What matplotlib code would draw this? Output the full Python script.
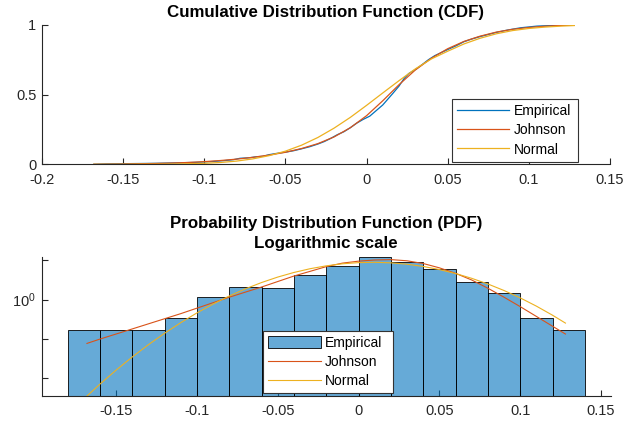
import numpy as np
import matplotlib
matplotlib.use("Agg")
import matplotlib.pyplot as plt
from matplotlib.ticker import FormatStrFormatter, NullFormatter

plt.rcParams['font.family'] = ['Liberation Sans', 'DejaVu Sans']
plt.rcParams['axes.unicode_minus'] = False

# MATLAB default line colours
C_BLUE = '#0072BD'
C_RED = '#D95319'
C_YEL = '#EDB120'
AX_COL = '#262626'

# --- empirical CDF (sorted returns vs. fraction below) ---
ecdf_x = [-0.168, -0.160, -0.145, -0.130, -0.115, -0.105, -0.095, -0.088, -0.082,
          -0.078, -0.072, -0.068, -0.064, -0.060, -0.056, -0.050, -0.045, -0.040,
          -0.035, -0.030, -0.026, -0.022, -0.018, -0.014, -0.010, -0.006, -0.002,
          0.002, 0.006, 0.010, 0.013, 0.016, 0.020, 0.023, 0.026, 0.030, 0.034,
          0.038, 0.042, 0.046, 0.050, 0.055, 0.060, 0.065, 0.070, 0.075, 0.080,
          0.087, 0.095, 0.105, 0.115, 0.128]
ecdf_y = [0.000, 0.003, 0.005, 0.007, 0.011, 0.014, 0.020, 0.026, 0.033,
          0.043, 0.047, 0.054, 0.057, 0.069, 0.077, 0.087, 0.097, 0.111,
          0.126, 0.145, 0.163, 0.186, 0.212, 0.233, 0.262, 0.295, 0.322,
          0.345, 0.385, 0.425, 0.465, 0.505, 0.560, 0.612, 0.650, 0.678, 0.712,
          0.748, 0.778, 0.800, 0.822, 0.848, 0.878, 0.898, 0.915, 0.930, 0.945,
          0.962, 0.978, 0.990, 0.995, 1.000]

# --- fitted curves, sampled over the data range ---
fit_x = [-0.168, -0.160, -0.150, -0.140, -0.130, -0.120, -0.110, -0.100, -0.090,
         -0.080, -0.070, -0.060, -0.050, -0.040, -0.030, -0.020, -0.010, 0.000,
         0.010, 0.020, 0.030, 0.040, 0.050, 0.060, 0.070, 0.080, 0.090, 0.100,
         0.110, 0.120, 0.128]

johnson_cdf = [0.000, 0.001, 0.002, 0.004, 0.006, 0.009, 0.013, 0.019, 0.027,
               0.037, 0.050, 0.066, 0.086, 0.113, 0.148, 0.196, 0.262, 0.348,
               0.455, 0.570, 0.675, 0.760, 0.828, 0.880, 0.918, 0.947, 0.967, 0.980,
               0.989, 0.995, 0.998]
normal_cdf = [0.000, 0.000, 0.000, 0.001, 0.001, 0.002, 0.004, 0.007, 0.013,
              0.023, 0.039, 0.062, 0.094, 0.137, 0.192, 0.259, 0.336, 0.422,
              0.511, 0.599, 0.683, 0.755, 0.810, 0.862, 0.903, 0.935, 0.958, 0.973,
              0.983, 0.990, 0.994]

johnson_pdf = [0.076, 0.098, 0.132, 0.178, 0.240, 0.324, 0.437, 0.603, 0.832,
               1.148, 1.549, 2.089, 2.884, 3.981, 5.248, 6.918, 8.511, 9.550,
               10.23, 10.47, 9.770, 8.320, 6.460, 4.680, 3.160, 1.950, 1.150, 0.661,
               0.372, 0.209, 0.132]
normal_pdf = [0.00346, 0.00693, 0.0158, 0.0342, 0.0705, 0.138, 0.257, 0.456, 0.768,
              1.232, 1.877, 2.720, 3.749, 4.913, 6.124, 7.258, 8.180, 8.770,
              8.940, 8.660, 7.990, 7.000, 5.835, 4.626, 3.487, 2.500, 1.704, 1.105,
              0.681, 0.399, 0.251]

# --- histogram (pdf normalisation) ---
bin_edges = [-0.18, -0.16, -0.14, -0.12, -0.10, -0.08, -0.06, -0.04, -0.02,
             0.00, 0.02, 0.04, 0.06, 0.08, 0.10, 0.12, 0.14]
bin_pdf = [0.166, 0.166, 0.166, 0.331, 1.159, 2.152, 1.987, 4.139, 7.119,
           12.417, 9.272, 6.126, 2.815, 1.490, 0.331, 0.166]

series_labels = ['Empirical', 'Johnson', 'Normal']
cdf_xticks = [-0.2, -0.15, -0.1, -0.05, 0, 0.05, 0.1, 0.15]
pdf_xticks = [-0.15, -0.1, -0.05, 0, 0.05, 0.1, 0.15]


def style_axes(ax):
    for side in ('top', 'right'):
        ax.spines[side].set_visible(False)
    for side in ('left', 'bottom'):
        ax.spines[side].set_color(AX_COL)
        ax.spines[side].set_linewidth(0.8)
    ax.tick_params(which='both', direction='in', colors=AX_COL, width=0.8,
                   labelsize=10.5, labelcolor=AX_COL)
    ax.tick_params(which='major', length=4.5)
    ax.tick_params(which='minor', length=4)
    ax.tick_params(axis='x', pad=6)
    ax.tick_params(axis='y', pad=4)
    ax.xaxis.set_major_formatter(FormatStrFormatter('%g'))


def legend_at(ax, fig, handles, box_px):
    # box_px: left, top, width, height of the legend frame in pixels
    x0, y0, w, h = box_px
    leg = ax.legend(handles, series_labels, loc='upper left', mode='expand',
                    bbox_to_anchor=(x0 / 636, 1 - (y0 + h) / 425, w / 636, h / 425),
                    bbox_transform=fig.transFigure, fancybox=False, framealpha=1,
                    edgecolor='#333333', fontsize=10, handlelength=3.8,
                    handleheight=0.9, handletextpad=0.3, borderpad=0.35,
                    labelspacing=0.38, borderaxespad=0)
    leg.get_frame().set_linewidth(0.8)
    return leg


def plot_cdf(fig):
    ax = fig.add_axes([41.9 / 636, 1 - 164.3 / 425, 568.1 / 636, 139.6 / 425])
    h1, = ax.plot(ecdf_x, ecdf_y, color=C_BLUE, lw=0.9)
    h2, = ax.plot(fit_x, johnson_cdf, color=C_RED, lw=0.9)
    h3, = ax.plot(fit_x, normal_cdf, color=C_YEL, lw=0.9)
    ax.set_xlim(-0.2, 0.15)
    ax.set_ylim(0, 1)
    ax.set_xticks(cdf_xticks)
    ax.set_yticks([0, 0.5, 1])
    ax.yaxis.set_major_formatter(FormatStrFormatter('%g'))
    style_axes(ax)
    ax.set_title('Cumulative Distribution Function (CDF)', fontsize=12.2,
                 fontweight='bold', pad=5.5)
    legend_at(ax, fig, [h1, h2, h3], (451.7, 99.3, 126, 62))
    return ax


def plot_pdf(fig):
    ax = fig.add_axes([41.7 / 636, 1 - 396 / 425, 569 / 636, 139.3 / 425])
    ax.set_yscale('log')
    widths = np.diff(bin_edges)
    bars = ax.bar(bin_edges[:-1], bin_pdf, width=widths, align='edge',
                  facecolor=(0.0, 0.447, 0.741, 0.6), edgecolor='black',
                  linewidth=0.6)
    h2, = ax.plot(fit_x, johnson_pdf, color=C_RED, lw=0.8)
    h3, = ax.plot(fit_x, normal_pdf, color=C_YEL, lw=0.8)
    ax.set_xlim(-0.196, 0.156)
    ax.set_ylim(min(normal_pdf), max(bin_pdf))
    ax.set_xticks(pdf_xticks)
    ax.set_yticks([1])
    ax.set_yticks([0.01, 0.1, 10], minor=True)
    ax.yaxis.set_minor_formatter(NullFormatter())
    ax.set_axisbelow(True)
    style_axes(ax)
    ax.set_title('Probability Distribution Function (PDF)\nLogarithmic scale',
                 fontsize=12.2, fontweight='bold', pad=6.5, linespacing=1.4)
    legend_at(ax, fig, [bars, h2, h3], (263, 331, 130, 59))
    return ax


def main():
    fig = plt.figure(figsize=(6.36, 4.25), dpi=100)
    plot_cdf(fig)
    plot_pdf(fig)
    fig.savefig('out.png', dpi=100)


if __name__ == '__main__':
    main()
